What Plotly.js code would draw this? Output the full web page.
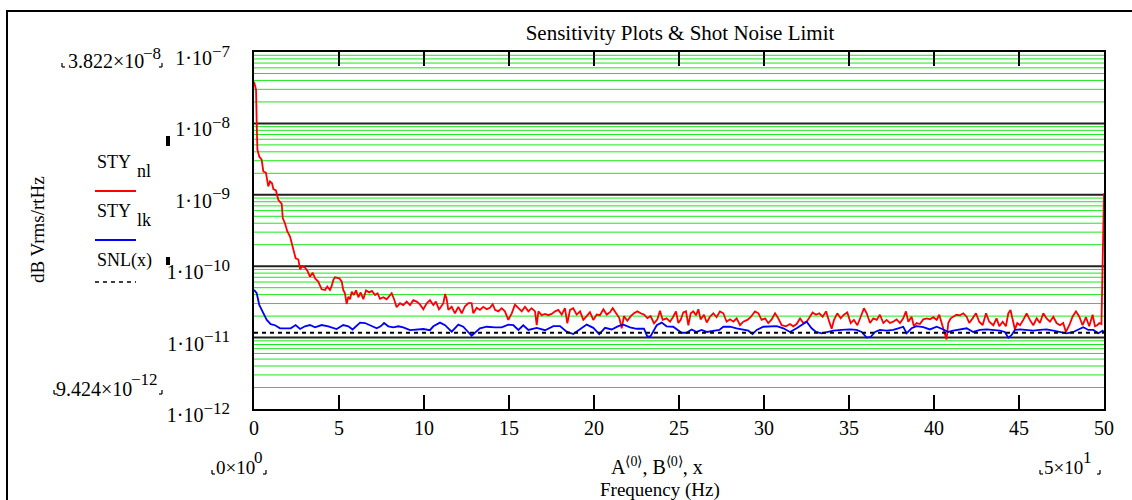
<!DOCTYPE html>
<html>
<head>
<meta charset="utf-8">
<script src="https://cdn.plot.ly/plotly-3.0.1.min.js"></script>
<style>html,body{margin:0;padding:0;background:#fff;}#chart{width:1132px;height:500px;}</style>
</head>
<body>
<div id="chart"></div>
<script>
// ---- data ----
const freqNl = [0,0.12,0.16,0.2,0.31,0.45,0.55,0.7,0.84,0.94,1.06,1.14,1.29,1.43,1.63,1.69,1.82,1.96,2.12,2.25,2.37,2.45,2.61,2.71,2.84,3.0,3.14,3.29,3.45,3.59,3.78,3.98,4.18,4.31,4.47,4.56,4.67,4.76,5.02,5.16,5.25,5.35,5.45,5.55,5.65,5.75,5.88,6.0,6.14,6.27,6.43,6.59,6.78,6.94,7.12,7.27,7.41,7.61,7.8,8.0,8.1,8.24,8.39,8.59,8.78,8.98,9.18,9.37,9.57,9.76,9.96,10.16,10.35,10.55,10.7,10.88,
10.94,11.14,11.24,11.33,11.43,11.63,11.82,12.02,12.22,12.41,12.61,12.8,12.9,13.1,13.29,13.49,13.69,13.88,14.04,14.18,14.37,14.57,14.76,14.96,15.16,15.35,15.55,15.75,15.94,16.14,16.33,16.53,16.63,16.73,16.92,17.12,17.31,17.51,17.71,17.9,18.1,18.29,18.43,18.59,18.78,18.98,19.18,19.37,19.57,19.76,19.96,20.16,20.35,20.55,20.75,20.94,21.1,21.29,21.49,21.63,21.76,21.96,22.16,22.35,22.55,22.75,22.94,23.14,23.33,23.53,23.73,
23.88,24.04,24.27,24.47,24.66,24.82,24.96,25.1,25.25,25.41,25.55,25.69,25.84,26.0,26.14,26.27,26.47,26.63,26.82,27.02,27.21,27.41,27.61,27.8,28.0,28.2,28.39,28.59,28.78,29.02,29.21,29.47,29.67,29.86,30.06,30.25,30.45,30.65,30.84,31.04,31.29,31.53,31.72,31.92,32.12,32.31,32.51,32.7,32.86,33.06,33.25,33.45,33.65,33.84,33.98,34.12,34.31,34.51,34.7,34.9,35.1,35.29,35.49,35.69,35.88,36.04,36.24,36.43,36.63,
36.82,37.02,37.21,37.41,37.6,37.8,38.0,38.19,38.35,38.49,38.68,38.82,38.98,39.17,39.37,39.57,39.76,39.96,40.16,40.31,40.45,40.58,40.74,40.84,40.98,41.13,41.33,41.53,41.72,41.92,42.07,42.27,42.47,42.66,42.86,43.06,43.25,43.49,43.68,43.84,44.04,44.23,44.37,44.5,44.62,44.76,44.9,45.06,45.25,45.45,45.64,45.84,46.04,46.23,46.43,46.62,46.82,47.02,47.21,47.41,47.6,47.76,47.96,48.15,48.35,48.55,48.74,48.94,49.13,49.33,49.47,49.6,49.72,49.85,50.0];
const styNl = [3.822e-8,2.97e-8,1.0e-8,4.28e-9,3.44e-9,3.1e-9,2.12e-9,2.05e-9,1.31e-9,1.54e-9,1.45e-9,1.2e-9,1.15e-9,8.5e-10,7.48e-10,4.71e-10,4.0e-10,3.06e-10,2.6e-10,1.99e-10,1.6e-10,1.29e-10,1.24e-10,9.08e-11,1.0e-10,9.5e-11,8.67e-11,7.14e-11,8.1e-11,6.78e-11,6.08e-11,4.75e-11,4.65e-11,5.2e-11,4.65e-11,5.2e-11,6.43e-11,7.0e-11,6.78e-11,6.08e-11,4.65e-11,4.18e-11,2.96e-11,3.75e-11,3.44e-11,4.4e-11,3.95e-11,4.58e-11,3.67e-11,4.3e-11,3.44e-11,4.58e-11,4.3e-11,4.5e-11,3.95e-11,4.18e-11,3.5e-11,3.67e-11,3.44e-11,3.95e-11,4.18e-11,3.44e-11,2.66e-11,3.03e-11,2.86e-11,3.19e-11,2.86e-11,3.34e-11,3.19e-11,2.92e-11,2.49e-11,3.03e-11,3.34e-11,2.86e-11,3.19e-11,2.49e-11,
2.58e-11,3.03e-11,4.09e-11,3.51e-11,2.44e-11,2.7e-11,2.19e-11,2.7e-11,2.19e-11,2.75e-11,3.03e-11,3.03e-11,2.19e-11,2.62e-11,2.44e-11,2.7e-11,2.5e-11,2.62e-11,2.93e-11,2.44e-11,2.33e-11,2.58e-11,2.33e-11,1.77e-11,2.19e-11,2.9e-11,2.58e-11,2.33e-11,2.7e-11,2.33e-11,2.58e-11,2.33e-11,1.49e-11,2.33e-11,2.06e-11,2.15e-11,2.06e-11,2.15e-11,2.33e-11,2.44e-11,2.1e-11,2.58e-11,1.58e-11,2.44e-11,2.58e-11,2.1e-11,2.33e-11,1.77e-11,2.0e-11,2.27e-11,1.77e-11,2.1e-11,2.06e-11,2.5e-11,2.1e-11,2.27e-11,2.58e-11,2.19e-11,1.88e-11,1.35e-11,2.0e-11,1.72e-11,2.0e-11,2.19e-11,2.33e-11,2.19e-11,2.1e-11,1.88e-11,2.0e-11,1.58e-11,1.8e-11,
2.38e-11,1.77e-11,1.86e-11,1.67e-11,1.96e-11,2.33e-11,1.6e-11,1.77e-11,2.25e-11,2.33e-11,1.49e-11,2.19e-11,2.33e-11,2.05e-11,2.49e-11,1.8e-11,2.09e-11,1.63e-11,1.96e-11,2.19e-11,1.93e-11,2.33e-11,2.19e-11,1.67e-11,1.8e-11,1.67e-11,1.86e-11,1.49e-11,1.67e-11,1.77e-11,1.93e-11,2.33e-11,2.19e-11,1.77e-11,1.86e-11,1.6e-11,1.8e-11,2.19e-11,1.86e-11,1.49e-11,1.44e-11,1.55e-11,1.44e-11,1.55e-11,1.86e-11,1.6e-11,1.67e-11,1.96e-11,2.25e-11,2.09e-11,2.19e-11,1.96e-11,2.33e-11,1.67e-11,1.33e-11,1.77e-11,2.19e-11,1.86e-11,2.09e-11,2.25e-11,1.6e-11,1.77e-11,1.49e-11,1.96e-11,2.58e-11,2.19e-11,1.6e-11,1.86e-11,1.77e-11,
2.09e-11,1.6e-11,1.77e-11,1.6e-11,1.67e-11,1.8e-11,1.6e-11,1.86e-11,2.33e-11,1.67e-11,1.96e-11,1.44e-11,1.6e-11,1.55e-11,1.8e-11,1.86e-11,1.8e-11,1.93e-11,1.77e-11,2.09e-11,1.6e-11,1.28e-11,9.424e-12,1.6e-11,1.86e-11,1.96e-11,2.09e-11,2.05e-11,2.19e-11,1.96e-11,1.6e-11,1.86e-11,2.19e-11,1.67e-11,1.49e-11,2.19e-11,1.67e-11,1.49e-11,1.86e-11,1.44e-11,1.67e-11,1.44e-11,2.19e-11,2.44e-11,1.8e-11,1.3e-11,1.6e-11,1.49e-11,1.77e-11,2.19e-11,1.77e-11,1.49e-11,1.86e-11,1.6e-11,2.19e-11,1.86e-11,1.67e-11,1.96e-11,1.6e-11,1.49e-11,1.6e-11,1.2e-11,1.49e-11,1.96e-11,2.33e-11,1.96e-11,1.49e-11,1.93e-11,1.44e-11,2.09e-11,1.44e-11,1.49e-11,1.6e-11,1.55e-11,1.05e-9];

const freqLk = [0,0.16,0.31,0.55,0.75,0.98,1.24,1.53,1.92,2.16,2.45,2.71,3.0,3.29,3.59,3.98,4.37,4.86,5.25,5.55,5.8,6.0,6.24,6.53,6.82,7.22,7.45,7.65,7.9,8.2,8.49,8.78,9.18,9.57,9.96,10.35,10.55,10.94,11.24,11.63,12.02,12.31,12.8,13.29,13.69,14.18,14.57,14.96,15.26,15.55,15.84,16.14,16.63,17.12,17.61,18.0,18.39,18.78,19.18,19.57,19.96,20.31,20.65,21.04,21.43,21.73,22.12,22.51,22.94,23.14,23.33,23.69,23.98,24.27,24.66,24.96,25.15,25.45,25.74,26.04,26.33,26.63,27.02,27.37,27.61,28.0,28.39,28.78,29.08,29.33,29.57,29.96,30.35,30.75,31.14,31.53,31.92,32.21,32.51,32.8,33.06,33.39,33.69,34.08,34.57,35.06,35.45,35.74,36.04,36.27,36.53,36.82,37.21,37.6,37.9,38.19,38.39,38.68,38.98,39.37,39.76,40.16,40.55,40.84,41.13,41.53,41.92,42.31,42.7,43.1,43.49,43.88,44.17,44.37,44.56,44.76,45.06,45.45,45.84,46.23,46.62,47.02,47.41,47.8,48.19,48.49,48.78,49.08,49.37,49.67,49.92,50.0];
const styLk = [4.65e-11,4.18e-11,2.86e-11,2.19e-11,1.77e-11,1.54e-11,1.49e-11,1.35e-11,1.35e-11,1.35e-11,1.5e-11,1.32e-11,1.44e-11,1.5e-11,1.39e-11,1.5e-11,1.44e-11,1.32e-11,1.5e-11,1.44e-11,1.3e-11,1.44e-11,1.62e-11,1.6e-11,1.5e-11,1.35e-11,1.44e-11,1.6e-11,1.44e-11,1.39e-11,1.44e-11,1.39e-11,1.27e-11,1.28e-11,1.32e-11,1.27e-11,1.44e-11,1.62e-11,1.49e-11,1.21e-11,1.52e-11,1.42e-11,1.06e-11,1.35e-11,1.42e-11,1.39e-11,1.39e-11,1.52e-11,1.49e-11,1.28e-11,1.49e-11,1.28e-11,1.37e-11,1.27e-11,1.45e-11,1.45e-11,1.21e-11,1.12e-11,1.3e-11,1.52e-11,1.37e-11,1.12e-11,1.37e-11,1.3e-11,1.45e-11,1.52e-11,1.39e-11,1.33e-11,1.33e-11,1.03e-11,1.05e-11,1.49e-11,1.62e-11,1.44e-11,1.42e-11,1.28e-11,1.17e-11,1.17e-11,1.3e-11,1.2e-11,1.28e-11,1.2e-11,1.25e-11,1.28e-11,1.42e-11,1.42e-11,1.35e-11,1.3e-11,1.25e-11,1.12e-11,1.28e-11,1.42e-11,1.45e-11,1.45e-11,1.35e-11,1.2e-11,1.35e-11,1.49e-11,1.67e-11,1.35e-11,1.2e-11,1.15e-11,1.2e-11,1.25e-11,1.28e-11,1.3e-11,1.28e-11,1.2e-11,1.0e-11,1.02e-11,1.2e-11,1.28e-11,1.25e-11,1.28e-11,1.35e-11,1.42e-11,1.15e-11,1.35e-11,1.45e-11,1.4e-11,1.3e-11,1.42e-11,1.3e-11,1.2e-11,1.25e-11,1.3e-11,1.35e-11,1.2e-11,1.28e-11,1.3e-11,1.28e-11,1.25e-11,1.2e-11,1.0e-11,1.08e-11,1.28e-11,1.3e-11,1.28e-11,1.25e-11,1.28e-11,1.3e-11,1.25e-11,1.2e-11,1.15e-11,1.2e-11,1.3e-11,1.4e-11,1.28e-11,1.28e-11,1.15e-11,1.25e-11,1.18e-11];

const snlX = [0, 50];
const snlY = [1.17e-11, 1.17e-11];

const xTicks = [0,5,10,15,20,25,30,35,40,45,50];
const yDecades = [-12,-11,-10,-9,-8,-7];
const yExpText = ['−12','−11','−10','−9','−8','−7'];

// ---- layout helpers ----
const W = 1132, H = 500;
const L = 254, R = 1104, T = 52, B = 409;
const px = x => (x - L) / (R - L);
const py = y => (B - y) / (B - T);
const FONT = 'Liberation Serif';
const sup = s => '<sup><span style="font-size:17px">' + s + '</span></sup>';

const shapes = [];
const logToPaper = v => (v - yDecades[0]) / (yDecades[yDecades.length - 1] - yDecades[0]);
// minor (green) and major (black) horizontal gridlines
for (let d = -12; d < -7; d++) {
  for (let m = 2; m <= 9; m++) {
    const v = logToPaper(d + Math.log10(m));
    shapes.push({type:'line', xref:'paper', yref:'paper', x0:0, x1:1, y0:v, y1:v, layer:'below',
                 line:{color:'#18e818', width:1}});
  }
}
for (let d = -11; d <= -8; d++) {
  const v = logToPaper(d);
  shapes.push({type:'line', xref:'paper', yref:'paper', x0:0, x1:1, y0:v, y1:v, layer:'below',
               line:{color:'#222', width:2}});
}
// outer frame (its right and bottom sides fall outside the picture)
shapes.push({type:'rect', xref:'paper', yref:'paper', x0:px(7), x1:px(1136), y0:py(504), y1:py(11),
             line:{color:'#000', width:2}});
// legend samples
shapes.push({type:'line', xref:'paper', yref:'paper', x0:px(95), x1:px(136), y0:py(191), y1:py(191), line:{color:'#ff0000', width:1.8}});
shapes.push({type:'line', xref:'paper', yref:'paper', x0:px(95), x1:px(136), y0:py(240), y1:py(240), line:{color:'#0000ff', width:1.8}});
shapes.push({type:'line', xref:'paper', yref:'paper', x0:px(95), x1:px(136), y0:py(282), y1:py(282), line:{color:'#000', width:1.5, dash:'4px,4px'}});
// small black markers
shapes.push({type:'rect', xref:'paper', yref:'paper', x0:px(166), x1:px(170), y0:py(146), y1:py(136), fillcolor:'#000', line:{width:0}});
shapes.push({type:'rect', xref:'paper', yref:'paper', x0:px(166), x1:px(170), y0:py(265), y1:py(257), fillcolor:'#000', line:{width:0}});
// corner brackets around limit readouts
const brackets = [[62,67,true],[162,67,false],[54,394,true],[162,394,false],[212,474,true],[266,474,false],[1040,474,true],[1100,474,false]];
brackets.forEach(([x,y,left]) => {
  const pts = left ? [[x, y-4],[x, y],[x+3, y]] : [[x-3, y],[x, y],[x, y-4]];
  const p = pts.map(([a,b]) => [px(a), py(b)]);
  shapes.push({type:'line', xref:'paper', yref:'paper', x0:p[0][0], y0:p[0][1], x1:p[1][0], y1:p[1][1], line:{color:'#000', width:1.2}});
  shapes.push({type:'line', xref:'paper', yref:'paper', x0:p[1][0], y0:p[1][1], x1:p[2][0], y1:p[2][1], line:{color:'#000', width:1.2}});
});

const fnt = s => ({family: FONT, size: s, color: '#000'});
const ann = (x, y, text, opts = {}) => Object.assign({xref:'paper', yref:'paper', x:px(x), y:py(y), text,
  showarrow:false, xanchor:'left', yanchor:'middle', borderpad:0, borderwidth:0, font:fnt(20)}, opts);

const annotations = [
  // limit readouts: mantissa and raised exponent
  ann(144, 61, '3.822×10', {xanchor:'right'}),
  ann(143, 53, '−8', {font:fnt(17)}),
  ann(132, 389, '9.424×10', {xanchor:'right'}),
  ann(131, 379, '−12', {font:fnt(17)}),
  ann(216, 467, '0×10', {font:fnt(19)}),
  ann(254, 457, '0', {font:fnt(17)}),
  ann(1044, 467, '5×10', {font:fnt(19)}),
  ann(1083, 457, '1', {font:fnt(17)}),
  // legend labels
  ann(97, 162, 'STY', {font:fnt(18)}),
  ann(137, 171, 'nl', {font:fnt(18)}),
  ann(97, 211, 'STY', {font:fnt(18)}),
  ann(137, 220, 'lk', {font:fnt(18)}),
  ann(97, 260, 'SNL(x)', {font:fnt(18)}),
  // axis titles
  ann(37, 230, 'dB Vrms/rtHz', {xanchor:'center', textangle:-90, font:fnt(19)}),
  ann(657, 466, 'A<sup>⟨0⟩</sup>, B<sup>⟨0⟩</sup>, x', {xanchor:'center'}),
  ann(660, 490, 'Frequency (Hz)', {xanchor:'center', font:fnt(19)})
];

const traces = [
  {x: freqNl, y: styNl, type:'scatter', mode:'lines', name:'STY nl', line:{color:'#ff0000', width:1.8}},
  {x: freqLk, y: styLk, type:'scatter', mode:'lines', name:'STY lk', line:{color:'#0000ff', width:1.8}},
  {x: snlX, y: snlY, type:'scatter', mode:'lines', name:'SNL(x)', line:{color:'#000', width:2, dash:'4px,4px'}}
];

const layout = {
  width: W, height: H,
  margin: {l: L, r: W - R, t: T, b: H - B, pad: 0},
  paper_bgcolor: '#fff', plot_bgcolor: '#fff',
  showlegend: false,
  font: fnt(20),
  title: {text: 'Sensitivity Plots &amp; Shot Noise Limit', x: px(680), xref:'paper', xanchor:'center',
          y: 1 - 33/H, yref:'container', yanchor:'middle', font: fnt(21)},
  xaxis: {range:[0,50], tickvals: xTicks, ticktext: xTicks.map(String), ticks:'inside', ticklen:14, tickwidth:2,
          tickcolor:'#000', mirror:'allticks', showline:true, linecolor:'#000', linewidth:2,
          showgrid:false, zeroline:false, ticklabelstandoff: 0, tickfont: fnt(20)},
  yaxis: {type:'log', range:[-12,-7], tickvals: yDecades.map(d => Math.pow(10, d)),
          ticktext: yExpText.map(e => '1·10' + sup(e)),
          ticks:'', showline:true, mirror:true, linecolor:'#000', linewidth:2, showgrid:false, zeroline:false,
          ticklabelstandoff: 18, ticklabelshift: 6, tickfont: fnt(20)},
  shapes, annotations
};

Plotly.newPlot('chart', traces, layout, {displayModeBar:false, staticPlot:true});
</script>
</body>
</html>
